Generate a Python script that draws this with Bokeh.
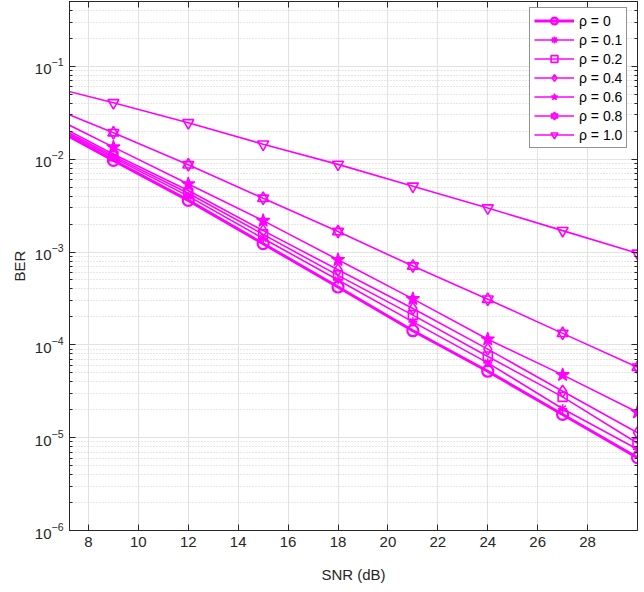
from bokeh.plotting import figure
from bokeh.models import (Range1d, LogAxis, LinearAxis, FixedTicker, Legend, LegendItem,
                          CustomJSTickFormatter)
from bokeh.embed import file_html
from bokeh.resources import INLINE

# ---------------- data ----------------
snr = [6, 9, 12, 15, 18, 21, 24, 27, 30]
ber_rho_00 = [0.0265, 0.0097, 0.0036, 0.00123, 4.2e-4, 1.42e-4, 5.2e-5, 1.78e-5, 6.1e-6]
ber_rho_01 = [0.0275, 0.0104, 0.0040, 0.00140, 5.0e-4, 1.77e-4, 6.4e-5, 2.05e-5, 7.5e-6]
ber_rho_02 = [0.0285, 0.0108, 0.0043, 0.00155, 5.6e-4, 2.09e-4, 7.5e-5, 2.75e-5, 8.7e-6]
ber_rho_04 = [0.0300, 0.0113, 0.0046, 0.00170, 6.45e-4, 2.46e-4, 9.0e-5, 3.16e-5, 1.13e-5]
ber_rho_06 = [0.0340, 0.0135, 0.0054, 0.00218, 8.26e-4, 3.13e-4, 1.15e-4, 4.75e-5, 1.88e-5]
ber_rho_08 = [0.0410, 0.0193, 0.0087, 0.00379, 1.66e-3, 7.06e-4, 3.1e-4, 1.33e-4, 5.75e-5]
ber_rho_10 = [0.0650, 0.0405, 0.0247, 0.0145, 0.0088, 0.0051, 0.00298, 0.0017, 9.7e-4]

labels = ["ρ = 0", "ρ = 0.1", "ρ = 0.2", "ρ = 0.4", "ρ = 0.6", "ρ = 0.8", "ρ = 1.0"]
x_ticks = [8, 10, 12, 14, 16, 18, 20, 22, 24, 26, 28]
y_ticks = [1e-6, 1e-5, 1e-4, 1e-3, 1e-2, 1e-1]
y_minor = [k * t for t in y_ticks for k in range(2, 10)]

MAG = "#ff00ff"
FONT = "Liberation Sans"
AX = "#262626"

p = figure(width=644, height=592, x_range=Range1d(7.24, 30), y_range=Range1d(1e-6, 0.5),
           y_axis_type="log", output_backend="svg", toolbar_location=None,
           min_border_left=69, min_border_right=7, min_border_top=1, min_border_bottom=62,
           background_fill_color="white", border_fill_color="white")
p.outline_line_color = AX

xt = FixedTicker(ticks=x_ticks, minor_ticks=[])
yt = FixedTicker(ticks=y_ticks, minor_ticks=y_minor)
p.xaxis.ticker = xt
p.yaxis.ticker = yt
p.xgrid.ticker = xt
p.ygrid.ticker = yt

for ax in (p.xaxis[0], p.yaxis[0]):
    ax.axis_line_color = AX
    ax.major_tick_line_color = AX
    ax.minor_tick_line_color = AX
    ax.major_tick_in = 6
    ax.major_tick_out = 0
    ax.minor_tick_in = 3
    ax.minor_tick_out = 0
    ax.major_label_text_font = FONT
    ax.major_label_text_font_size = "15px"
    ax.major_label_text_color = AX
    ax.axis_label_text_font = FONT
    ax.axis_label_text_font_size = "15px"
    ax.axis_label_text_font_style = "normal"
    ax.axis_label_text_color = AX
    ax.major_label_standoff = 6

p.xaxis.axis_label = "SNR (dB)"
p.yaxis.axis_label = "BER"
p.xaxis.axis_label_standoff = 16
p.yaxis.axis_label_standoff = 4

blank = CustomJSTickFormatter(code="return ''")
top = LinearAxis(ticker=xt, formatter=blank, major_tick_in=6, major_tick_out=0,
                 minor_tick_in=0, minor_tick_out=0, axis_line_color=AX, major_tick_line_color=AX,
                 major_label_standoff=0)
right = LogAxis(ticker=yt, formatter=blank, major_tick_in=6, major_tick_out=0,
                minor_tick_in=3, minor_tick_out=0, axis_line_color=AX, major_tick_line_color=AX,
                minor_tick_line_color=AX, major_label_standoff=0)
p.add_layout(top, "above")
p.add_layout(right, "right")

p.xgrid.grid_line_color = "#e2e2e2"
p.ygrid.grid_line_color = "#e2e2e2"
p.ygrid.minor_grid_line_color = "#cfcfcf"
p.ygrid.minor_grid_line_dash = "1 2"

series = [ber_rho_00, ber_rho_01, ber_rho_02, ber_rho_04, ber_rho_06, ber_rho_08, ber_rho_10]
items = []
for i, (ys, lab) in enumerate(zip(series, labels)):
    lw = 3 if i == 0 else 1.6
    r_line = p.line(snr, ys, line_color=MAG, line_width=lw)
    rs = [r_line]
    if i == 0:
        rs.append(p.scatter(snr, ys, marker="circle", size=11, line_color=MAG, line_width=2.2,
                            fill_color=None))
    elif i == 1:
        rs.append(p.scatter(snr, ys, marker="asterisk", size=9, line_color=MAG, line_width=1.6))
    elif i == 2:
        rs.append(p.scatter(snr, ys, marker="square", size=9, line_color=MAG, line_width=1.6,
                            fill_color=None))
    elif i == 3:
        rs.append(p.scatter(snr, ys, marker="diamond", size=12, line_color=MAG, line_width=1.6,
                            fill_color=None))
    elif i == 4:
        rs.append(p.scatter(snr, ys, marker="star", size=14, line_color=MAG, line_width=1.2,
                            fill_color=MAG))
    elif i == 5:
        rs.append(p.scatter(snr, ys, marker="triangle", size=11, line_color=MAG, line_width=1.6,
                            fill_color=None))
        rs.append(p.scatter(snr, ys, marker="inverted_triangle", size=11, line_color=MAG,
                            line_width=1.6, fill_color=None))
    else:
        rs.append(p.scatter(snr, ys, marker="inverted_triangle", size=11, line_color=MAG,
                            line_width=1.6, fill_color=None))
    items.append(LegendItem(label=lab, renderers=rs))

legend = Legend(items=items, location=(460, 382),
                border_line_color=AX, border_line_width=1, background_fill_color="white",
                background_fill_alpha=1, label_text_font=FONT, label_text_font_size="14px",
                label_text_color="black", glyph_width=40, glyph_height=17, label_height=17,
                spacing=2, padding=4, label_standoff=5)
p.add_layout(legend)

open("out.html", "w").write(file_html(p, INLINE))
